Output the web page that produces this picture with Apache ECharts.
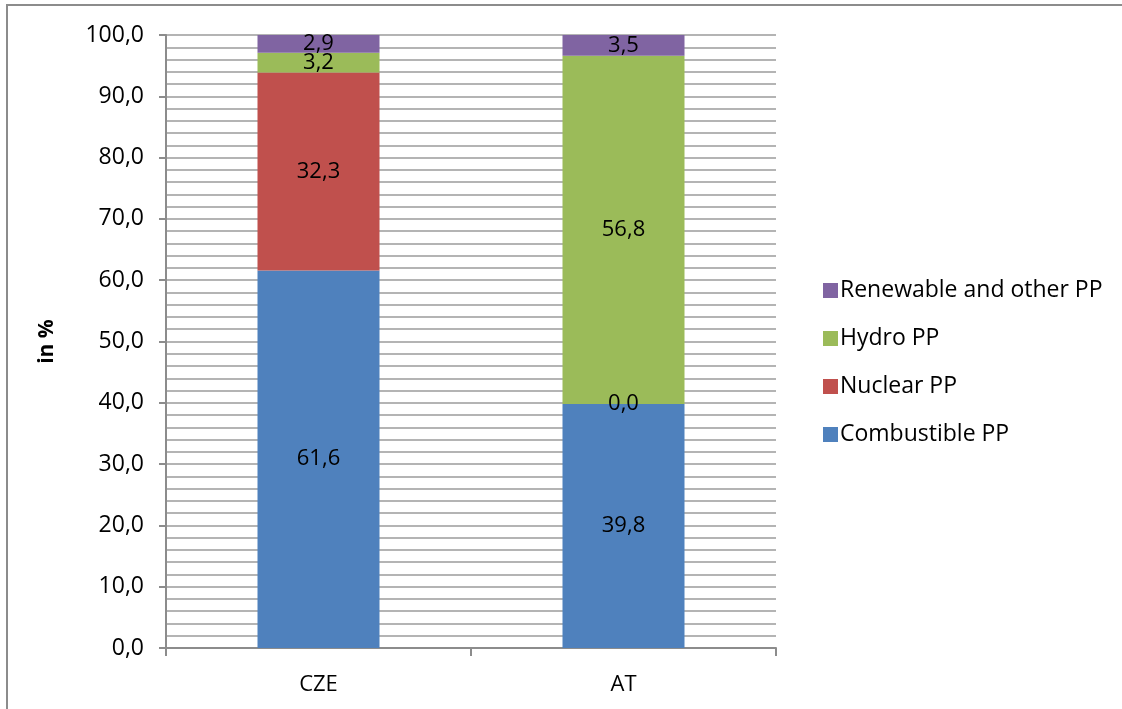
<!DOCTYPE html>
<html>
<head>
<meta charset="utf-8">
<script src="https://cdn.jsdelivr.net/npm/echarts@6/dist/echarts.min.js"></script>
<style>
  html, body { margin: 0; padding: 0; background: #fff; }
  #chart { width: 1122px; height: 709px; }
</style>
</head>
<body>
<div id="chart"></div>
<script>
// Electricity production structure by plant type (share, %)
const categories = ['CZE', 'AT'];
const combustible = [61.6, 39.8];
const nuclear = [32.3, 0.0];
const hydro = [3.2, 56.8];
const renewable = [2.9, 3.5];
const yTicks = [0, 10, 20, 30, 40, 50, 60, 70, 80, 90, 100];

const FONT = '"Open Sans", Lato, sans-serif';
const FS = 23;
const fmt = v => Number(v).toFixed(1).replace('.', ',');

const chart = echarts.init(document.getElementById('chart'), null, { renderer: 'canvas' });

function barSeries(name, data, color) {
  return {
    name: name,
    type: 'bar',
    stack: 'total',
    data: data,
    barWidth: '40%',
    itemStyle: { color: color },
    label: {
      show: true,
      position: 'inside',
      color: '#000',
      fontFamily: FONT,
      fontSize: 22,
      formatter: p => fmt(p.value)
    }
  };
}

chart.setOption({
  animation: false,
  backgroundColor: '#fff',
  graphic: [{
    type: 'rect',
    shape: { x: 7, y: 5, width: 1200, height: 800 },
    style: { fill: 'none', stroke: '#8c8c8c', lineWidth: 2 },
    z: -1
  }],
  grid: { left: 166, right: 346, top: 35, bottom: 61 },
  legend: {
    orient: 'vertical',
    left: 818,
    top: 274,
    itemWidth: 15,
    itemHeight: 15,
    itemGap: 25,
    icon: 'rect',
    data: ['Renewable and other PP', 'Hydro PP', 'Nuclear PP', 'Combustible PP'],
    textStyle: { fontFamily: FONT, fontSize: FS, color: '#000', padding: [0, 0, 0, -3] }
  },
  xAxis: {
    type: 'category',
    data: categories,
    boundaryGap: true,
    axisLine: { lineStyle: { color: '#8c8c8c', width: 2 } },
    axisTick: { show: true, length: 8, lineStyle: { color: '#8c8c8c', width: 2 } },
    axisLabel: { color: '#000', fontFamily: FONT, fontSize: 22, margin: 26 }
  },
  yAxis: {
    type: 'value',
    min: 0,
    max: 100,
    interval: 10,
    name: 'in %',
    nameLocation: 'middle',
    nameGap: 108,
    nameRotate: 90,
    nameTextStyle: { color: '#000', fontFamily: FONT, fontSize: 21, fontWeight: 'bold' },
    axisLine: { show: true, lineStyle: { color: '#8c8c8c', width: 2 } },
    axisTick: { show: true, length: 7, lineStyle: { color: '#8c8c8c', width: 2 } },
    axisLabel: {
      color: '#000', fontFamily: FONT, fontSize: FS, margin: 22,
      formatter: v => yTicks.includes(v) ? fmt(v) : ''
    },
    splitLine: { show: true, lineStyle: { color: '#b4b4b4', width: 2 } },
    minorTick: { show: false, splitNumber: 5 },
    minorSplitLine: { show: true, lineStyle: { color: '#b4b4b4', width: 2 } }
  },
  series: [
    barSeries('Combustible PP', combustible, '#4F81BD'),
    barSeries('Nuclear PP', nuclear, '#C0504D'),
    barSeries('Hydro PP', hydro, '#9BBB59'),
    barSeries('Renewable and other PP', renewable, '#8064A2')
  ]
});
</script>
</body>
</html>
